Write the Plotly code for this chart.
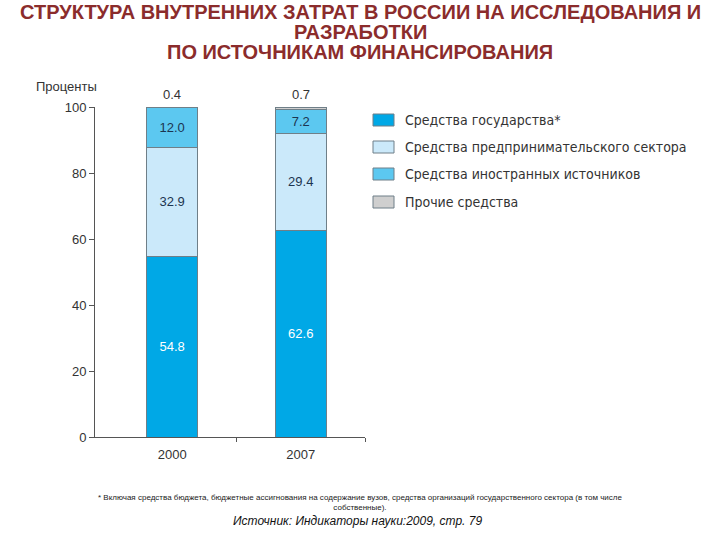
import plotly.graph_objects as go

years = ["2000", "2007"]
series_names = [
    "Средства государства*",
    "Средства предпринимательского сектора",
    "Средства иностранных источников",
    "Прочие средства",
]
state = [54.8, 62.6]
business = [32.9, 29.4]
foreign = [12.0, 7.2]
other = [0.4, 0.7]
y_ticks = [0, 20, 40, 60, 80, 100]
title_lines = [
    "СТРУКТУРА ВНУТРЕННИХ ЗАТРАТ В РОССИИ НА ИССЛЕДОВАНИЯ И",
    "РАЗРАБОТКИ",
    "ПО ИСТОЧНИКАМ ФИНАНСИРОВАНИЯ",
]

colors = ["#00a8e6", "#cbe9fa", "#5cc8f0", "#cfcfcf"]
text_colors = ["#ffffff", "#1c3550", "#1c3550", "#333333"]
values = [state, business, foreign, other]

xpos = [0, 1]
fig = go.Figure()
for i, (name, vals) in enumerate(zip(series_names, values)):
    show_text = i < 3
    fig.add_trace(go.Bar(
        x=xpos, y=vals, name=name, width=0.4,
        marker=dict(color=colors[i], line=dict(color="#6f7f88", width=1)),
        text=[f"{v:.1f}" for v in vals] if show_text else None,
        textposition="inside" if show_text else "none",
        insidetextanchor="middle",
        textfont=dict(family="Arial", size=13, color=text_colors[i]),
        textangle=0,
        showlegend=False,
        hoverinfo="skip",
        cliponaxis=False,
    ))

# top labels for "other"
for xi, s, b, f, o in zip(xpos, state, business, foreign, other):
    fig.add_annotation(x=xi, y=min(s + b + f + o, 100), text=f"{o:.1f}", showarrow=False,
                       yanchor="bottom", yshift=3, xref="x", yref="y",
                       font=dict(family="Arial", size=13, color="#333333"))

dom_x = [95 / 720, 365 / 720]
dom_y = [1 - 437 / 540, 1 - 107 / 540]

fig.update_layout(
    width=720, height=540,
    margin=dict(l=0, r=0, t=0, b=0, autoexpand=False),
    paper_bgcolor="white", plot_bgcolor="white",
    barmode="stack",
    xaxis=dict(domain=dom_x, range=[-0.6, 1.5], tickvals=xpos, ticktext=years,
               ticks="", showline=True, linecolor="#555555", linewidth=1,
               showgrid=False, zeroline=False, automargin=False, ticklabelstandoff=5,
               tickfont=dict(family="Arial", size=13, color="#333333")),
    xaxis2=dict(domain=dom_x, range=[-0.6, 1.5], overlaying="x", anchor="y",
                side="bottom", tickvals=[0.5, 1.5], ticks="outside", ticklen=4,
                tickcolor="#555555", showticklabels=False, showgrid=False,
                zeroline=False, showline=False, automargin=False),
    yaxis=dict(domain=dom_y, range=[0, 100], tickvals=y_ticks,
               ticks="outside", ticklen=5, tickcolor="#555555",
               showline=True, linecolor="#555555", linewidth=1,
               showgrid=False, zeroline=False, automargin=False,
               tickfont=dict(family="Arial", size=13, color="#333333")),
)
# invisible trace to activate xaxis2
fig.add_trace(go.Scatter(x=[0.5], y=[0], xaxis="x2", yaxis="y", mode="markers",
                         marker=dict(opacity=0), showlegend=False, hoverinfo="skip"))

# y axis label
fig.add_annotation(x=66 / 720, y=1 - 87 / 540, xref="paper", yref="paper",
                   xanchor="center", yanchor="middle",
                   text="Проценты", showarrow=False,
                   font=dict(family="Arial", size=13, color="#333333"))

# title, one annotation per line
for line, ty in zip(title_lines, [12, 32, 52]):
    fig.add_annotation(x=0.5, y=1 - ty / 540, xref="paper", yref="paper",
                       xanchor="center", yanchor="middle",
                       showarrow=False, text=f"<b>{line}</b>",
                       font=dict(family="Arial", size=20, color="#8b2c2c"))

# legend built from series names
leg_y = [120, 147, 174, 202]
for name, c, ly in zip(series_names, colors, leg_y):
    fig.add_shape(type="rect", xref="paper", yref="paper",
                  x0=373 / 720, x1=394 / 720,
                  y0=1 - (ly + 6) / 540, y1=1 - (ly - 6) / 540,
                  fillcolor=c, line=dict(color="#6f7f88", width=1))
    fig.add_annotation(x=403 / 720, y=1 - ly / 540, xref="paper", yref="paper",
                       xanchor="left", yanchor="middle", showarrow=False, text=name,
                       font=dict(family="DejaVu Sans Condensed, DejaVu Sans", size=14, color="#333333"))

# footnotes
fig.add_annotation(x=0.5, y=1 - 502 / 540, xref="paper", yref="paper",
                   xanchor="center", yanchor="middle",
                   showarrow=False, align="center",
                   text="* Включая средства бюджета, бюджетные ассигнования на содержание вузов, средства организаций государственного сектора (в том числе<br>собственные).",
                   font=dict(family="Arial", size=8, color="#222222"))
fig.add_annotation(x=0.497, y=1 - 521 / 540, xref="paper", yref="paper",
                   xanchor="center", yanchor="middle",
                   showarrow=False,
                   text="<i>Источник: Индикаторы науки:2009, стр. 79</i>",
                   font=dict(family="Arial", size=12, color="#111111"))

fig.write_html("out.html")
